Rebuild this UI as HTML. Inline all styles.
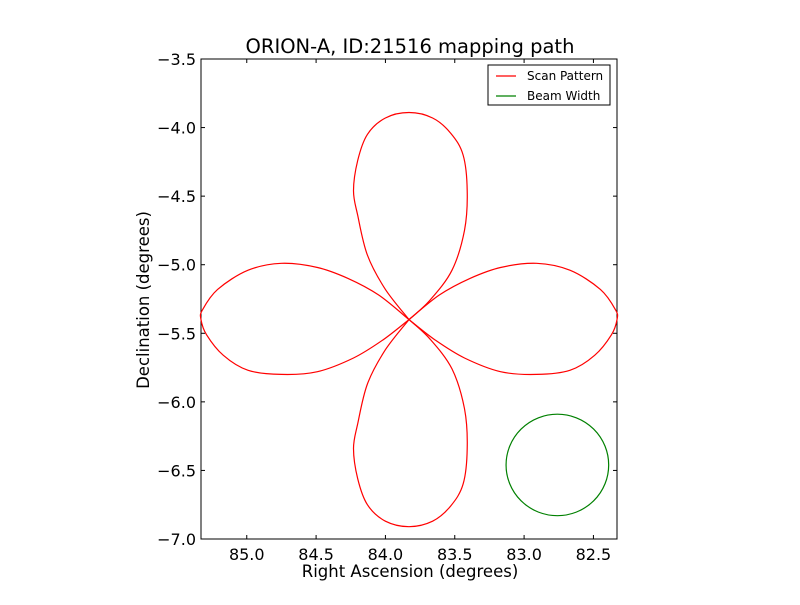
<!DOCTYPE html>
<html><head><meta charset="utf-8"><style>
body{margin:0;background:#fff;}
svg text{font-family:"DejaVu Sans","Liberation Sans",sans-serif;}
</style></head><body>
<svg id="chart" width="800" height="600" viewBox="0 0 800 600" xmlns="http://www.w3.org/2000/svg">
<rect width="800" height="600" fill="#fff"/>
<g id="plot"></g>
</svg>
<script>
const xTicks=[85.0,84.5,84.0,83.5,83.0,82.5];
const yTicks=[-3.5,-4.0,-4.5,-5.0,-5.5,-6.0,-6.5,-7.0];
const petalRightRA=[83.83,83.61,83.39,83.17,82.91,82.67,82.45,82.34,82.33,82.37,82.49,82.67,82.91,83.17,83.43,83.64,83.83];
const petalRightDec=[-5.40,-5.22,-5.10,-5.02,-4.99,-5.04,-5.18,-5.33,-5.40,-5.51,-5.66,-5.77,-5.80,-5.78,-5.68,-5.55,-5.40];
const petalLeftRA=[83.83,84.05,84.27,84.49,84.75,84.99,85.21,85.32,85.33,85.29,85.17,84.99,84.75,84.49,84.23,84.02,83.83];
const petalLeftDec=[-5.40,-5.22,-5.10,-5.02,-4.99,-5.04,-5.18,-5.33,-5.40,-5.51,-5.66,-5.77,-5.80,-5.78,-5.68,-5.55,-5.40];
const petalTopRA=[83.83,84.00,84.13,84.20,84.23,84.20,84.13,84.00,83.83,83.66,83.53,83.44,83.41,83.43,83.52,83.68,83.83];
const petalTopDec=[-5.40,-5.18,-4.93,-4.64,-4.46,-4.24,-4.05,-3.93,-3.89,-3.93,-4.04,-4.20,-4.46,-4.75,-5.04,-5.26,-5.40];
const petalBottomRA=[83.83,84.00,84.13,84.20,84.23,84.20,84.13,84.00,83.83,83.66,83.53,83.44,83.41,83.43,83.52,83.68,83.83];
const petalBottomDec=[-5.40,-5.62,-5.87,-6.16,-6.34,-6.56,-6.75,-6.87,-6.91,-6.87,-6.76,-6.60,-6.34,-6.05,-5.76,-5.54,-5.40];
const beamCenter=[82.76,-6.46];
const beamRadius=[0.37];

const X0=201,X1=617,Y0=59,Y1=539;
const raMin=85.33,raMax=82.33,decMax=-3.5,decMin=-7.0;
function sx(v){return X0+(v-raMin)/(raMax-raMin)*(X1-X0);}
function sy(v){return Y0+(decMax-v)/(decMax-decMin)*(Y1-Y0);}
const NS="http://www.w3.org/2000/svg";
const g=document.getElementById('plot');
function mk(t,a,p){const e=document.createElementNS(NS,t);for(const k in a)e.setAttribute(k,a[k]);(p||g).appendChild(e);return e;}

const frame=mk('rect',{x:X0,y:Y0,width:X1-X0,height:Y1-Y0,fill:'none',stroke:'#000','stroke-width':1});



xTicks.forEach(v=>{
  const x=sx(v);
  mk('line',{x1:x,y1:Y1,x2:x,y2:Y1-4,stroke:'#000'});
  mk('line',{x1:x,y1:Y0,x2:x,y2:Y0+4,stroke:'#000'});
  const t=mk('text',{x:x,y:Y1+21,'font-size':16,'text-anchor':'middle'});
  t.textContent=v.toFixed(1);
  
  
});
yTicks.forEach(v=>{
  const y=sy(v);
  mk('line',{x1:X0,y1:y,x2:X0+4,y2:y,stroke:'#000'});
  mk('line',{x1:X1,y1:y,x2:X1-4,y2:y,stroke:'#000'});
  const t=mk('text',{x:X0-5,y:y+6,'font-size':16,'text-anchor':'end'});
  t.textContent='\u2212'+Math.abs(v).toFixed(1);
  
  
});

function petal(ra,dec,name){
  const P=ra.map((r,i)=>[sx(r),sy(dec[i])]);
  let d='M'+P[0][0].toFixed(1)+','+P[0][1].toFixed(1);
  for(let i=0;i<P.length-1;i++){
    const p0=P[Math.max(0,i-1)],p1=P[i],p2=P[i+1],p3=P[Math.min(P.length-1,i+2)];
    const c1=[p1[0]+(p2[0]-p0[0])/6,p1[1]+(p2[1]-p0[1])/6];
    const c2=[p2[0]-(p3[0]-p1[0])/6,p2[1]-(p3[1]-p1[1])/6];
    d+='C'+c1[0].toFixed(1)+','+c1[1].toFixed(1)+' '+c2[0].toFixed(1)+','+c2[1].toFixed(1)+' '+p2[0].toFixed(1)+','+p2[1].toFixed(1);
  }
  const p=mk('path',{d:d,fill:'none',stroke:'#ff0000','stroke-width':1.2,'stroke-linejoin':'round'});
  
  
}
petal(petalRightRA,petalRightDec,'scan-petal-right');
petal(petalLeftRA,petalLeftDec,'scan-petal-left');
petal(petalTopRA,petalTopDec,'scan-petal-top');
petal(petalBottomRA,petalBottomDec,'scan-petal-bottom');

const cx=sx(beamCenter[0]),cy=sy(beamCenter[1]);
const rx=Math.abs(sx(beamCenter[0]+beamRadius[0])-cx),ry=Math.abs(sy(beamCenter[1]+beamRadius[0])-cy);
const beam=mk('ellipse',{cx:cx,cy:cy,rx:rx,ry:ry,fill:'none',stroke:'#008000','stroke-width':1.2});



const title=mk('text',{x:410,y:53,'font-size':19.5,'text-anchor':'middle'});
title.textContent='ORION-A, ID:21516 mapping path';


const xl=mk('text',{x:410,y:577,'font-size':16.5,'text-anchor':'middle'});
xl.textContent='Right Ascension (degrees)';


const yl=mk('text',{x:149,y:300,'font-size':16.5,'text-anchor':'middle',transform:'rotate(-90 149 300)'});
yl.textContent='Declination (degrees)';



const lg=mk('g',{});


mk('rect',{x:488,y:65,width:122,height:40,fill:'#fff',stroke:'#000'},lg);
mk('line',{x1:496,y1:76,x2:516,y2:76,stroke:'#ff0000','stroke-width':1.2},lg);
mk('line',{x1:496,y1:96,x2:516,y2:96,stroke:'#008000','stroke-width':1.2},lg);
const l1=mk('text',{x:527,y:80,'font-size':12},lg);
l1.textContent='Scan Pattern';


const l2=mk('text',{x:527,y:100,'font-size':12},lg);
l2.textContent='Beam Width';


</script>
</body></html>
